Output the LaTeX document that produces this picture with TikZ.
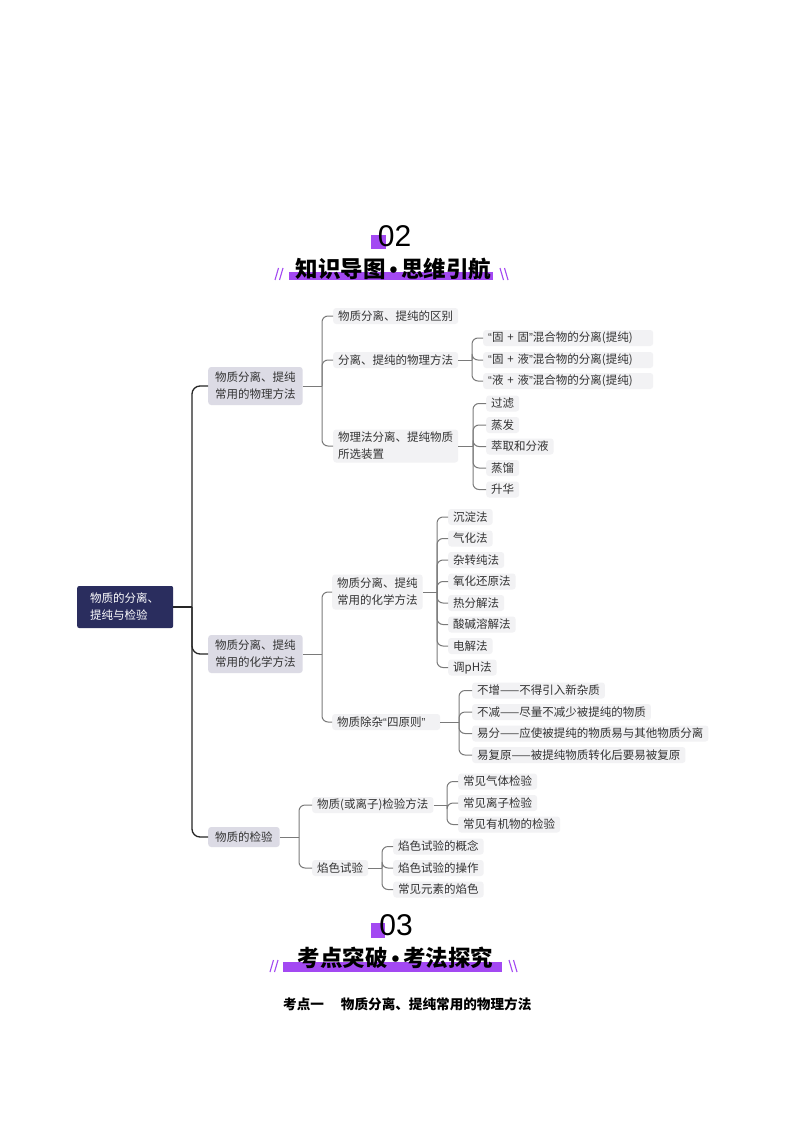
\documentclass[tikz,border=0pt]{standalone}
\usepackage{fontspec}
\newfontfamily\cjk{Noto Sans CJK SC}
\newfontfamily\numfont{Liberation Sans}
\newcommand{\oq}{{\numfont “}}
\newcommand{\cq}{{\numfont ”}}
\newcommand{\tdot}{{\numfont\bfseries\,•\,}}
\definecolor{navy}{HTML}{2A2D5E}
\definecolor{lonefill}{HTML}{DCDBE5}
\definecolor{leaffill}{HTML}{F2F2F4}
\definecolor{txt}{HTML}{333333}
\definecolor{linec}{HTML}{7A7A7A}
\definecolor{purp}{HTML}{A349F2}
\tikzset{
  base/.style={font=\cjk\fontsize{11.5}{17}\selectfont, text=txt, inner xsep=5pt, inner ysep=0pt,
    minimum height=16pt, rounded corners=3pt, anchor=west},
  leaf/.style={base, fill=leaffill},
  leaftwo/.style={base, fill=leaffill, align=left},
  lone/.style={base, fill=lonefill, align=left, inner xsep=7pt, minimum height=38pt},
  rootbox/.style={base, fill=navy, text=white, align=left, text width=70pt, inner xsep=13pt,
    minimum height=42pt, rounded corners=2pt},
  conn/.style={draw=linec, line width=1pt, rounded corners=6pt},
  mainconn/.style={draw=black!85, line width=1.3pt, rounded corners=8pt},
  numtext/.style={font=\numfont\fontsize{30}{30}\selectfont, text=black},
  headtitle/.style={font=\cjk\bfseries\fontsize{22.5}{23}\selectfont, text=black},
  slash/.style={draw=purp, line width=1.1pt}
}
\begin{document}
\begin{tikzpicture}[x=1pt,y=-1pt]
\useasboundingbox[fill=white] (0,0) rectangle (794,1123);

% ---------- header 02 ----------
\fill[purp] (371,235) rectangle (386,249);
\node[numtext] (n02) at (394.5,236) {02};
\fill[purp] (289,272) rectangle (493,280);
\node[headtitle] (t02) at (393.5,269) {知识导图\tdot 思维引航};
\draw[slash] (275,280) -- (278.5,268);
\draw[slash] (279.5,280) -- (283,268);
\draw[slash] (500,268) -- (503.5,280);
\draw[slash] (504.5,268) -- (508,280);

% ---------- mind map ----------
\node[rootbox] (root) at (77,607) {物质的分离、\\提纯与检验};

\node[lone] (p1) at (208,386) {物质分离、提纯\\常用的物理方法};
\node[lone] (p2) at (208,654) {物质分离、提纯\\常用的化学方法};
\node[lone, minimum height=20pt] (p3) at (208,837) {物质的检验};

% physical branch
\node[leaf] (a1) at (333,316) {物质分离、提纯的区别};
\node[leaf] (a2) at (333,360) {分离、提纯的物理方法};
\node[leaftwo, minimum height=33pt] (a3) at (333,446) {物理法分离、提纯物质\\所选装置};

\node[leaf, text width=160pt] (a21) at (483,338) {\oq 固 + 固\cq 混合物的分离(提纯)};
\node[leaf, text width=160pt] (a22) at (483,360) {\oq 固 + 液\cq 混合物的分离(提纯)};
\node[leaf, text width=160pt] (a23) at (483,381) {\oq 液 + 液\cq 混合物的分离(提纯)};

\node[leaf] (a31) at (486,403.5) {过滤};
\node[leaf] (a32) at (486,425) {蒸发};
\node[leaf] (a33) at (486,446.5) {萃取和分液};
\node[leaf] (a34) at (486,468) {蒸馏};
\node[leaf] (a35) at (486,489.5) {升华};

% chemical branch
\node[leaftwo, minimum height=35pt] (b1) at (332,592) {物质分离、提纯\\常用的化学方法};
\node[leaf, text width=98pt] (b2) at (332,722) {物质除杂\oq 四原则\cq};

\node[leaf] (b11) at (448,517) {沉淀法};
\node[leaf] (b12) at (448,538.5) {气化法};
\node[leaf] (b13) at (448,560) {杂转纯法};
\node[leaf] (b14) at (448,581.5) {氧化还原法};
\node[leaf] (b15) at (448,603) {热分解法};
\node[leaf] (b16) at (448,624.5) {酸碱溶解法};
\node[leaf] (b17) at (448,646) {电解法};
\node[leaf] (b18) at (448,667.5) {调pH法};

\node[leaf] (b21) at (472,690.5) {不增——不得引入新杂质};
\node[leaf] (b22) at (472,712) {不减——尽量不减少被提纯的物质};
\node[leaf] (b23) at (472,733.5) {易分——应使被提纯的物质易与其他物质分离};
\node[leaf] (b24) at (472,755) {易复原——被提纯物质转化后要易被复原};

% detection branch
\node[leaf] (c1) at (312,805) {物质(或离子)检验方法};
\node[leaf] (c2) at (312,868) {焰色试验};

\node[leaf] (c11) at (458,781.5) {常见气体检验};
\node[leaf] (c12) at (458,803) {常见离子检验};
\node[leaf] (c13) at (458,824.5) {常见有机物的检验};

\node[leaf] (c21) at (393,846.5) {焰色试验的概念};
\node[leaf] (c22) at (393,868) {焰色试验的操作};
\node[leaf] (c23) at (393,889.5) {常见元素的焰色};

% ---------- connectors ----------
\coordinate (j0) at (192,607);
\draw[mainconn] (root.east) -- (j0);
\foreach \c in {p1,p2,p3} \draw[mainconn] (j0) |- (\c.west);

\coordinate (j1) at (322,386);
\draw[conn] (p1.east) -- (j1);
\foreach \c in {a1,a2,a3} \draw[conn] (j1) |- (\c.west);

\coordinate (j2) at (472,360);
\draw[conn] (a2.east) -- (j2);
\foreach \c in {a21,a22,a23} \draw[conn] (j2) |- (\c.west);

\coordinate (j3) at (473,446);
\draw[conn] (a3.east) -- (j3);
\foreach \c in {a31,a32,a33,a34,a35} \draw[conn] (j3) |- (\c.west);

\coordinate (j4) at (322,654);
\draw[conn] (p2.east) -- (j4);
\foreach \c in {b1,b2} \draw[conn] (j4) |- (\c.west);

\coordinate (j5) at (437,592);
\draw[conn] (b1.east) -- (j5);
\foreach \c in {b11,b12,b13,b14,b15,b16,b17,b18} \draw[conn] (j5) |- (\c.west);

\coordinate (j6) at (459,722);
\draw[conn] (b2.east) -- (j6);
\foreach \c in {b21,b22,b23,b24} \draw[conn] (j6) |- (\c.west);

\coordinate (j7) at (299,837);
\draw[conn] (p3.east) -- (j7);
\foreach \c in {c1,c2} \draw[conn] (j7) |- (\c.west);

\coordinate (j8) at (447,805);
\draw[conn] (c1.east) -- (j8);
\foreach \c in {c11,c12,c13} \draw[conn] (j8) |- (\c.west);

\coordinate (j9) at (382,868);
\draw[conn] (c2.east) -- (j9);
\foreach \c in {c21,c22,c23} \draw[conn] (j9) |- (\c.west);

% ---------- header 03 ----------
\fill[purp] (371,923) rectangle (385,938);
\node[numtext] (n03) at (396,925) {03};
\fill[purp] (283,962) rectangle (502,972);
\node[headtitle] (t03) at (395.5,958) {考点突破\tdot 考法探究};
\draw[slash] (270,972) -- (273.5,960);
\draw[slash] (274.5,972) -- (278,960);
\draw[slash] (509,960) -- (512.5,972);
\draw[slash] (513.5,960) -- (517,972);

\node[font=\cjk\bfseries\fontsize{13.6}{14}\selectfont, text=black, anchor=west, inner sep=0pt]
  (kd) at (283,1004) {考点一\hspace{17pt}物质分离、提纯常用的物理方法};
\end{tikzpicture}
\end{document}
